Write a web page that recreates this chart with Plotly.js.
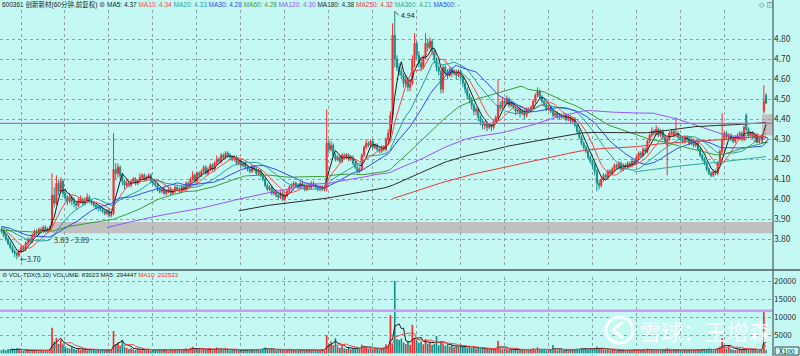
<!DOCTYPE html>
<html><head><meta charset="utf-8">
<script src="https://cdn.plot.ly/plotly-3.0.1.min.js"></script>
<style>html,body{margin:0;padding:0;background:#c4f8f2;}#chart{width:800px;height:356px;}</style>
</head><body><div id="chart"></div>
<script>
// ---------- DATA (60-minute bars, 600361) ----------
const preCloses = [3.76,3.75,3.77,3.78,3.76,3.74,3.75,3.77,3.79,3.78,3.80,3.79,3.77,3.78,3.80,3.81,3.79,3.78,3.80,3.82,3.81,
3.80,3.82,3.83,3.81,3.80,3.82,3.84,3.83,3.82,3.81,3.83,3.85,3.84,3.83,3.85,3.86,3.84,3.83,3.85,3.86,
3.87,3.88,3.86,3.85,3.87,3.89,3.88,3.86,3.87,3.88,3.90,3.89,3.87,3.86,3.88,3.87,3.85,3.86,3.88,3.87,3.86,3.85,3.87,3.86,3.84,3.85,3.86,3.85,3.84,3.85];

const opens = [
3.85,3.84,3.82,3.80,3.78,3.76,3.74,3.73,3.72,3.74,
3.76,3.75,3.78,3.80,3.79,3.82,3.84,3.83,3.85,3.84,
3.86,3.84,3.85,3.87,4.02,3.98,4.08,4.04,4.09,4.03,
4.01,3.99,4.01,3.99,3.98,3.97,3.99,4.00,3.98,3.99,
4.01,3.99,3.98,3.97,3.96,3.96,3.95,3.94,3.93,3.94,
3.92,3.93,4.15,4.13,4.16,4.12,4.09,4.07,4.08,4.07,
4.09,4.10,4.08,4.09,4.11,4.12,4.10,4.11,4.12,4.09,
4.08,4.07,4.05,4.04,4.05,4.03,4.04,4.05,4.03,4.04,
4.06,4.05,4.04,4.06,4.05,4.08,4.07,4.10,4.12,4.09,
4.13,4.12,4.14,4.16,4.13,4.15,4.17,4.15,4.18,4.20,
4.19,4.22,4.21,4.23,4.22,4.21,4.20,4.21,4.18,4.19,
4.17,4.18,4.16,4.15,4.14,4.16,4.15,4.13,4.14,4.12,
4.10,4.07,4.05,4.06,4.03,4.04,4.02,4.01,4.03,4.00,
4.02,4.04,4.06,4.07,4.08,4.07,4.06,4.08,4.07,4.05,
4.07,4.06,4.08,4.07,4.06,4.05,4.06,4.05,4.06,4.28,
4.25,4.27,4.22,4.20,4.21,4.19,4.22,4.21,4.22,4.20,
4.21,4.18,4.16,4.14,4.15,4.22,4.26,4.28,4.27,4.29,
4.26,4.27,4.25,4.24,4.26,4.25,4.30,4.33,4.42,4.82,
4.70,4.66,4.64,4.62,4.58,4.60,4.56,4.58,4.70,4.78,
4.72,4.68,4.66,4.71,4.78,4.76,4.79,4.74,4.70,4.66,
4.64,4.55,4.66,4.64,4.62,4.65,4.63,4.64,4.62,4.64,
4.61,4.58,4.55,4.52,4.50,4.47,4.44,4.45,4.41,4.39,
4.37,4.38,4.36,4.37,4.36,4.39,4.41,4.47,4.46,4.49,
4.48,4.50,4.47,4.48,4.46,4.44,4.45,4.43,4.44,4.42,
4.45,4.44,4.46,4.49,4.52,4.54,4.51,4.49,4.47,4.45,
4.46,4.44,4.42,4.43,4.41,4.42,4.41,4.42,4.40,4.41,
4.39,4.40,4.37,4.34,4.31,4.28,4.26,4.24,4.21,4.19,
4.17,4.14,4.08,4.07,4.10,4.12,4.11,4.14,4.13,4.15,
4.17,4.16,4.18,4.15,4.17,4.16,4.18,4.17,4.19,4.18,
4.21,4.23,4.22,4.25,4.24,4.29,4.32,4.34,4.33,4.35,
4.32,4.34,4.31,4.27,4.30,4.33,4.34,4.32,4.33,4.31,
4.30,4.29,4.31,4.30,4.28,4.29,4.27,4.28,4.25,4.22,
4.20,4.18,4.15,4.13,4.12,4.14,4.13,4.18,4.24,4.30,
4.33,4.31,4.32,4.30,4.29,4.31,4.32,4.33,4.30,4.42,
4.35,4.32,4.33,4.31,4.32,4.29,4.30,4.44,4.52];

const highs = [
3.86,3.85,3.83,3.81,3.79,3.77,3.75,3.74,3.75,3.77,
3.77,3.79,3.81,3.81,3.83,3.85,3.85,3.86,3.86,3.87,
3.87,3.86,3.87,4.13,4.06,4.12,4.10,4.11,4.10,4.05,
4.02,4.03,4.02,4.01,3.99,4.01,4.02,4.01,4.01,4.03,
4.02,4.00,3.99,3.98,3.97,3.97,3.96,3.95,3.95,3.95,
3.94,4.33,4.18,4.18,4.17,4.13,4.10,4.10,4.09,4.10,
4.11,4.11,4.10,4.13,4.13,4.13,4.12,4.13,4.13,4.10,
4.09,4.08,4.06,4.06,4.06,4.05,4.06,4.06,4.05,4.07,
4.07,4.06,4.07,4.07,4.09,4.09,4.11,4.14,4.13,4.14,
4.14,4.15,4.17,4.17,4.16,4.18,4.18,4.19,4.22,4.21,
4.23,4.23,4.24,4.24,4.23,4.22,4.22,4.22,4.20,4.20,
4.19,4.19,4.17,4.16,4.17,4.17,4.16,4.15,4.15,4.13,
4.11,4.08,4.07,4.07,4.05,4.05,4.03,4.04,4.04,4.03,
4.05,4.07,4.08,4.09,4.09,4.08,4.09,4.09,4.08,4.08,
4.08,4.09,4.09,4.08,4.07,4.07,4.07,4.07,4.45,4.30,
4.29,4.28,4.23,4.22,4.22,4.23,4.23,4.23,4.23,4.22,
4.22,4.19,4.17,4.16,4.23,4.27,4.30,4.29,4.30,4.30,
4.28,4.28,4.26,4.27,4.27,4.31,4.35,4.44,4.88,4.94,
4.72,4.68,4.66,4.63,4.62,4.61,4.60,4.72,4.83,4.79,
4.74,4.70,4.72,4.83,4.80,4.81,4.80,4.75,4.71,4.67,
4.65,4.67,4.67,4.65,4.66,4.66,4.65,4.65,4.65,4.65,
4.62,4.59,4.56,4.53,4.51,4.48,4.46,4.46,4.42,4.40,
4.39,4.39,4.38,4.38,4.40,4.42,4.60,4.49,4.51,4.50,
4.52,4.51,4.49,4.49,4.47,4.46,4.46,4.45,4.45,4.46,
4.46,4.47,4.50,4.53,4.56,4.55,4.52,4.50,4.48,4.47,
4.47,4.45,4.44,4.44,4.43,4.43,4.43,4.43,4.42,4.42,
4.41,4.41,4.38,4.35,4.32,4.29,4.27,4.25,4.22,4.20,
4.18,4.15,4.10,4.11,4.13,4.13,4.15,4.15,4.16,4.18,
4.18,4.19,4.19,4.18,4.18,4.19,4.19,4.20,4.20,4.22,
4.24,4.24,4.26,4.26,4.30,4.33,4.36,4.35,4.37,4.36,
4.35,4.35,4.32,4.31,4.34,4.35,4.35,4.41,4.34,4.32,
4.31,4.32,4.32,4.31,4.30,4.30,4.29,4.29,4.26,4.23,
4.21,4.19,4.16,4.14,4.15,4.15,4.19,4.25,4.43,4.34,
4.34,4.33,4.33,4.31,4.32,4.33,4.34,4.34,4.37,4.43,
4.36,4.34,4.34,4.33,4.33,4.31,4.32,4.57,4.53];

const lows = [
3.83,3.81,3.79,3.77,3.75,3.73,3.71,3.70,3.71,3.73,
3.74,3.74,3.77,3.78,3.78,3.81,3.82,3.82,3.83,3.83,
3.83,3.83,3.84,3.86,3.96,3.97,4.02,4.03,4.01,3.99,
3.97,3.98,3.97,3.96,3.95,3.96,3.98,3.97,3.97,3.98,
3.98,3.97,3.96,3.95,3.94,3.94,3.93,3.92,3.92,3.91,
3.91,3.92,4.10,4.11,4.10,4.07,4.05,4.06,4.06,4.06,
4.08,4.07,4.07,4.08,4.10,4.09,4.09,4.10,4.08,4.07,
4.06,4.04,4.03,4.03,4.02,4.02,4.03,4.02,4.02,4.03,
4.04,4.03,4.03,4.04,4.04,4.06,4.06,4.09,4.08,4.08,
4.11,4.11,4.13,4.12,4.12,4.14,4.14,4.14,4.17,4.18,
4.18,4.20,4.20,4.21,4.20,4.19,4.19,4.17,4.17,4.16,
4.16,4.15,4.14,4.13,4.13,4.14,4.12,4.12,4.11,4.09,
4.06,4.04,4.04,4.02,4.02,4.01,4.00,4.00,3.99,3.99,
4.01,4.03,4.05,4.06,4.06,4.05,4.05,4.06,4.04,4.04,
4.05,4.05,4.06,4.05,4.04,4.04,4.04,4.04,4.04,4.23,
4.24,4.21,4.19,4.19,4.18,4.18,4.20,4.20,4.19,4.19,
4.17,4.15,4.13,4.13,4.14,4.21,4.25,4.26,4.26,4.25,
4.25,4.24,4.23,4.23,4.24,4.24,4.29,4.32,4.40,4.66,
4.64,4.62,4.60,4.56,4.56,4.54,4.54,4.57,4.66,4.70,
4.66,4.64,4.65,4.70,4.74,4.75,4.72,4.68,4.64,4.62,
4.53,4.53,4.62,4.60,4.61,4.61,4.62,4.60,4.61,4.59,
4.56,4.53,4.50,4.48,4.45,4.42,4.42,4.39,4.37,4.35,
4.35,4.34,4.35,4.34,4.35,4.38,4.40,4.44,4.45,4.46,
4.47,4.46,4.46,4.45,4.42,4.43,4.41,4.42,4.40,4.41,
4.43,4.43,4.45,4.48,4.51,4.50,4.48,4.46,4.44,4.44,
4.43,4.41,4.41,4.40,4.40,4.40,4.40,4.39,4.39,4.38,
4.38,4.36,4.33,4.30,4.27,4.25,4.23,4.20,4.18,4.15,
4.12,4.04,4.05,4.06,4.09,4.10,4.10,4.12,4.12,4.14,
4.15,4.15,4.14,4.14,4.15,4.15,4.16,4.16,4.17,4.17,
4.20,4.21,4.21,4.23,4.23,4.28,4.31,4.32,4.32,4.31,
4.31,4.30,4.28,4.12,4.29,4.32,4.31,4.31,4.30,4.29,
4.28,4.28,4.29,4.27,4.27,4.26,4.26,4.24,4.21,4.19,
4.17,4.14,4.12,4.11,4.11,4.12,4.12,4.17,4.23,4.29,
4.30,4.30,4.29,4.28,4.28,4.30,4.31,4.29,4.29,4.34,
4.31,4.31,4.30,4.30,4.28,4.28,4.29,4.43,4.48];

const closes = [
3.84,3.82,3.80,3.78,3.76,3.74,3.73,3.72,3.74,3.76,
3.75,3.78,3.80,3.79,3.82,3.84,3.83,3.85,3.84,3.86,
3.84,3.85,3.86,4.02,3.98,4.08,4.04,4.09,4.03,4.01,
3.99,4.01,3.99,3.98,3.97,3.99,4.00,3.98,3.99,4.01,
3.99,3.98,3.97,3.96,3.96,3.95,3.94,3.93,3.94,3.92,
3.93,4.15,4.13,4.16,4.12,4.09,4.07,4.08,4.07,4.09,
4.10,4.08,4.09,4.11,4.12,4.10,4.11,4.12,4.09,4.08,
4.07,4.05,4.04,4.05,4.03,4.04,4.05,4.03,4.04,4.06,
4.05,4.04,4.06,4.05,4.08,4.07,4.10,4.12,4.09,4.13,
4.12,4.14,4.16,4.13,4.15,4.17,4.15,4.18,4.20,4.19,
4.22,4.21,4.23,4.22,4.21,4.20,4.21,4.18,4.19,4.17,
4.18,4.16,4.15,4.14,4.16,4.15,4.13,4.14,4.12,4.10,
4.07,4.05,4.06,4.03,4.04,4.02,4.01,4.03,4.00,4.02,
4.04,4.06,4.07,4.08,4.07,4.06,4.08,4.07,4.05,4.07,
4.06,4.08,4.07,4.06,4.05,4.06,4.05,4.06,4.28,4.25,
4.27,4.22,4.20,4.21,4.19,4.22,4.21,4.22,4.20,4.21,
4.18,4.16,4.14,4.15,4.22,4.26,4.28,4.27,4.29,4.26,
4.27,4.25,4.24,4.26,4.25,4.30,4.33,4.42,4.82,4.70,
4.66,4.64,4.62,4.58,4.60,4.56,4.58,4.70,4.78,4.72,
4.68,4.66,4.71,4.78,4.76,4.79,4.74,4.70,4.66,4.64,
4.55,4.66,4.64,4.62,4.65,4.63,4.64,4.62,4.64,4.61,
4.58,4.55,4.52,4.50,4.47,4.44,4.45,4.41,4.39,4.37,
4.38,4.36,4.37,4.36,4.39,4.41,4.47,4.46,4.49,4.48,
4.50,4.47,4.48,4.46,4.44,4.45,4.43,4.44,4.42,4.45,
4.44,4.46,4.49,4.52,4.54,4.51,4.49,4.47,4.45,4.46,
4.44,4.42,4.43,4.41,4.42,4.41,4.42,4.40,4.41,4.39,
4.40,4.37,4.34,4.31,4.28,4.26,4.24,4.21,4.19,4.17,
4.14,4.08,4.07,4.10,4.12,4.11,4.14,4.13,4.15,4.17,
4.16,4.18,4.15,4.17,4.16,4.18,4.17,4.19,4.18,4.21,
4.23,4.22,4.25,4.24,4.29,4.32,4.34,4.33,4.35,4.32,
4.34,4.31,4.29,4.30,4.33,4.34,4.32,4.33,4.31,4.30,
4.29,4.31,4.30,4.28,4.29,4.27,4.28,4.25,4.22,4.20,
4.18,4.15,4.13,4.12,4.14,4.13,4.18,4.24,4.30,4.33,
4.31,4.32,4.30,4.29,4.31,4.32,4.33,4.30,4.36,4.35,
4.32,4.33,4.31,4.32,4.29,4.30,4.31,4.49,4.48];

// volume in units of 100 shares
const volumes = [
900,1100,800,1200,1000,1300,900,1400,1100,800,
700,900,1000,600,800,700,900,600,700,800,
600,900,1200,7100,3200,4300,2600,3700,2400,1900,
1500,1300,1700,1200,1000,1400,900,1100,1300,800,
1000,900,1200,800,1100,900,1000,700,1200,800,
900,6200,2500,3100,2000,3700,1800,1500,1200,1400,
1100,900,1300,1000,800,1200,900,1100,700,1000,
900,800,1100,700,1200,900,600,1000,800,900,
700,900,800,1100,1300,900,1500,1800,1100,1400,
1200,1000,1300,900,1100,1400,800,1200,1600,1000,
1300,900,1500,1100,800,1000,1200,900,700,1000,
800,1100,900,700,1000,800,1200,900,1100,1400,
1600,1200,900,1300,1000,800,1100,900,1200,800,
1000,1300,900,1100,800,700,1000,900,800,1100,
900,700,1000,800,900,700,1100,800,5100,2600,
3300,2200,4200,1900,1500,2300,1400,1200,1600,1100,
1300,1500,1800,1200,2400,2000,1700,1300,1500,1100,
1200,1400,1000,1300,1600,2500,2000,10600,2500,20100,
4000,3700,4100,3000,2600,3300,2400,7900,4300,3600,
2900,3300,2500,3900,2700,3100,2300,2600,4800,2200,
3400,2800,2100,2500,1900,2300,1700,2000,1800,2400,
1900,2100,1600,1800,1500,1700,1300,1600,1200,1400,
1100,1300,1000,1200,1500,1300,3500,1400,1100,1300,
1200,900,1100,1000,1300,800,1000,900,1200,1000,
800,1100,1400,1200,1600,1100,900,1000,800,1200,
900,2300,1000,800,1100,900,700,1000,800,900,
1000,1200,1300,1100,1500,1200,1400,1000,1300,1100,
1400,1800,1200,1500,1000,900,1200,800,1000,900,
700,900,800,1000,700,800,900,700,1100,800,
1000,900,1200,800,1300,1100,900,1000,1200,900,
800,1000,900,1400,1100,800,1000,1200,900,800,
700,900,800,1000,700,800,900,1100,1000,1200,
1100,900,1300,1000,800,1100,1500,1800,4200,1900,
1300,2300,1200,1000,900,1100,1300,1000,1500,1200,
1000,1100,900,1300,700,650,700,11830,830];

const maPeriods = [5,10,20,30,60,120,180,250,360];
const maNames   = ["MA5","MA10","MA20","MA30","MA60","MA120","MA180","MA250","MA360","MA500"];
const maShown   = ["4.37","4.34","4.33","4.28","4.28","4.30","4.38","4.32","4.21","-"];
const maColors  = ["#1c1c1c","#ff4646","#2a9f9f","#2a4cff","#3d9a3d","#9a55ff","#2c2c2c","#e83a3a","#2fa8a0","#2a4cff"];
const priceTicks = [3.80,3.90,4.00,4.10,4.20,4.30,4.40,4.50,4.60,4.70,4.80];
const volTicks = [5000,10000,15000,20000];
const volTickText = ["5000","10000","15000","20000"];
const stockTitle = "600361 创新新材(60分钟,前复权)";
const volTitle = ["VOL-TDX(5,10)","VOLUME: 83023","MA5: 294447","MA10: 202533"];
const markHigh = 4.94, markLow = 3.70, gapLow = 3.83, gapHigh = 3.89, lastGapLow = 4.32, lastGapHigh = 4.43;
const refLinePrice = 4.38, refLineVol = 11830;

// ---------- BUILD ----------
const N = closes.length;
const idx = Array.from({length:N},(_,i)=>i);
const full = preCloses.concat(closes);
const P = preCloses.length;
function ma(arr, offset, n){
  return idx.map(i=>{const j=offset+i; if(j-n+1<0) return null; let s=0; for(let k=j-n+1;k<=j;k++) s+=arr[k]; return s/n;});
}
const UP="#ff2a2a", DOWN="#158f8c";
const traces = [];
traces.push({type:'candlestick', x:idx, open:opens, high:highs, low:lows, close:closes,
  increasing:{line:{color:UP,width:1},fillcolor:UP}, decreasing:{line:{color:DOWN,width:1},fillcolor:DOWN},
  whiskerwidth:0, hoverinfo:'skip', xaxis:'x', yaxis:'y', showlegend:false});
maPeriods.forEach((n,k)=>{
  traces.push({type:'scatter',mode:'lines',x:idx,y:ma(full,P,n),line:{color:maColors[k],width:1},
    hoverinfo:'skip',showlegend:false,xaxis:'x',yaxis:'y',connectgaps:false});
});
traces.push({type:'bar',x:idx,y:volumes,marker:{color:idx.map(i=>closes[i]>=opens[i]?UP:DOWN),line:{width:0}},
  xaxis:'x2',yaxis:'y2',hoverinfo:'skip',showlegend:false});
traces.push({type:'scatter',mode:'lines',x:idx,y:ma(volumes,0,5),line:{color:'#1c1c1c',width:1},xaxis:'x2',yaxis:'y2',hoverinfo:'skip',showlegend:false});
traces.push({type:'scatter',mode:'lines',x:idx,y:ma(volumes,0,10),line:{color:'#ff4646',width:1},xaxis:'x2',yaxis:'y2',hoverinfo:'skip',showlegend:false});

const H=356, W=800, PW=773;
const py = px => (H-px)/H;           // paper y from pixel
const pxX = px => px/PW;             // paper x from pixel
const xr = [-0.68, 351.16];
const gridX = Array.from({length:17},(_,k)=>8.9+20*k);
const gridCol = '#8fa3a3';
const fontLat = 'Noto Sans CJK SC, DejaVu Sans, sans-serif';
const fontHdr = 'Liberation Sans, Noto Sans CJK SC, sans-serif';

let header = '<span style="color:#222">'+stockTitle+'</span> <span style="color:#555">⚙</span>';
maNames.forEach((nm,k)=>{ header += ' <span style="color:'+maColors[k]+'">'+nm+': '+maShown[k]+'</span>'; });
const volHeader = '<span style="color:#555">⚙</span> <span style="color:#222">'+volTitle[0]+' '+volTitle[1]+' '+volTitle[2]+'</span> <span style="color:#ff3030">'+volTitle[3]+'</span>';

const layout = {
  width:W, height:H, margin:{l:0,r:27,t:0,b:0},
  paper_bgcolor:'#c4f8f2', plot_bgcolor:'#c4f8f2', showlegend:false,
  xaxis:{domain:[0,1],range:xr,anchor:'y',showticklabels:false,tickvals:gridX,showgrid:true,gridcolor:gridCol,griddash:'dot',gridwidth:1,zeroline:false,rangeslider:{visible:false},fixedrange:true,ticks:''},
  yaxis:{domain:[py(268),py(10)],range:[3.6565,4.9465],side:'right',tickvals:priceTicks,tickformat:'.2f',
    showgrid:true,gridcolor:gridCol,griddash:'dot',gridwidth:1,zeroline:false,ticks:'',
    tickfont:{family:fontLat,size:8.5,color:'#333'},fixedrange:true},
  xaxis2:{domain:[0,1],range:xr,anchor:'y2',matches:'x',showticklabels:false,tickvals:gridX,showgrid:true,gridcolor:gridCol,griddash:'dot',gridwidth:1,zeroline:false,ticks:''},
  yaxis2:{domain:[0,py(277)],range:[-750,21194],side:'right',tickvals:volTicks,ticktext:volTickText,
    showgrid:true,gridcolor:gridCol,griddash:'dot',gridwidth:1,zeroline:false,ticks:'',
    tickfont:{family:fontLat,size:8,color:'#333'},fixedrange:true},
  bargap:0.25,
  shapes:[
    {type:'rect',xref:'x',yref:'y',x0:22.3,x1:xr[1],y0:gapLow,y1:gapHigh-0.004,fillcolor:'#c0c0c0',line:{width:0},layer:'below'},
    {type:'rect',xref:'x',yref:'y',x0:346.2,x1:xr[1],y0:lastGapLow,y1:lastGapHigh-0.005,fillcolor:'#c0c0c0',line:{width:0},layer:'below'},
    {type:'line',xref:'paper',yref:'y',x0:0,x1:1,y0:refLinePrice,y1:refLinePrice,line:{color:'#c45ce8',width:1.3}},
    {type:'line',xref:'paper',yref:'y2',x0:0,x1:1,y0:refLineVol,y1:refLineVol,line:{color:'#c99ded',width:2.5}},
    {type:'line',xref:'paper',yref:'paper',x0:0,x1:W/PW,y0:py(270),y1:py(270),line:{color:'#4e5a66',width:1.5}},
    {type:'line',xref:'paper',yref:'paper',x0:1,x1:1,y0:0,y1:1,line:{color:'#4e5a66',width:1.2}},
    {type:'circle',xref:'paper',yref:'paper',x0:pxX(606),x1:pxX(633),y0:py(343),y1:py(317),line:{color:'rgba(255,255,255,0.9)',width:3}},
    {type:'path',xref:'paper',yref:'paper',path:'M '+pxX(623)+','+py(322)+' L '+pxX(613)+','+py(330)+' L '+pxX(623)+','+py(338),line:{color:'rgba(255,255,255,0.9)',width:3}},
    {type:'rect',xref:'paper',yref:'paper',x0:pxX(775),x1:pxX(799),y0:py(355),y1:py(347),line:{color:'#444',width:1},fillcolor:'rgba(0,0,0,0)'}
  ],
  annotations:[
    {xref:'paper',yref:'paper',x:0,y:py(5),xanchor:'left',yanchor:'middle',showarrow:false,text:header,font:{family:fontHdr,size:6.5,color:'#222'}},
    {xref:'paper',yref:'paper',x:0,y:py(274),xanchor:'left',yanchor:'middle',showarrow:false,text:volHeader,font:{family:fontHdr,size:6.1,color:'#222'}},
    {xref:'x',yref:'y',x:179,y:markHigh,ax:4,ay:4,xanchor:'left',yanchor:'middle',text:markHigh.toFixed(2),showarrow:true,arrowhead:0,arrowwidth:0.8,arrowcolor:'#222',standoff:0,font:{family:fontLat,size:7,color:'#222'}},
    {xref:'x',yref:'y',x:7.3,y:markLow,xanchor:'left',yanchor:'middle',showarrow:false,text:'←'+markLow.toFixed(2),font:{family:fontLat,size:7,color:'#222'}},
    {xref:'x',yref:'y',x:23,y:3.80,xanchor:'left',yanchor:'middle',showarrow:false,text:gapLow.toFixed(2)+' - '+gapHigh.toFixed(2),font:{family:fontLat,size:7.5,color:'#333'}},
    {xref:'x',yref:'y',x:341.5,y:4.30,xanchor:'left',yanchor:'middle',showarrow:false,text:'4.12',font:{family:fontLat,size:7.5,color:'#333'}},
    {xref:'paper',yref:'paper',x:pxX(637),y:py(330),xanchor:'left',yanchor:'middle',showarrow:false,text:'雪球：王增森',font:{family:'Noto Sans CJK SC',size:22,color:'rgba(255,255,255,0.9)'}},
    {xref:'paper',yref:'paper',x:pxX(787),y:py(351),xanchor:'center',yanchor:'middle',showarrow:false,text:'X100',font:{family:fontLat,size:7,color:'#222'}},
    {xref:'paper',yref:'paper',x:pxX(766),y:py(5),xanchor:'center',yanchor:'middle',showarrow:false,text:'◇ ◫',font:{family:'DejaVu Sans',size:7,color:'#555'}}
  ]
};
Plotly.newPlot('chart',traces,layout,{staticPlot:true,displayModeBar:false});
</script></body></html>
